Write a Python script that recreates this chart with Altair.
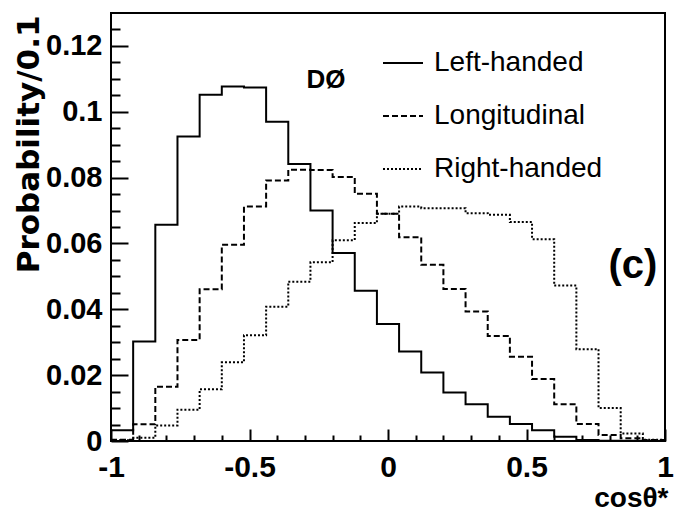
import altair as alt
import pandas as pd

# Left edges of the 25 bins in cos(theta*) (width 0.08); the last bin closes at 1.0
bin_left = [-1.00, -0.92, -0.84, -0.76, -0.68, -0.60, -0.52, -0.44, -0.36, -0.28,
            -0.20, -0.12, -0.04, 0.04, 0.12, 0.20, 0.28, 0.36, 0.44, 0.52,
            0.60, 0.68, 0.76, 0.84, 0.92]
x_end = 1.0

left_handed = [0.0033, 0.0302, 0.0657, 0.0925, 0.1052, 0.1077, 0.1074, 0.0970, 0.0841, 0.0700,
               0.0571, 0.0456, 0.0355, 0.0272, 0.0208, 0.0147, 0.0112, 0.0074, 0.0052, 0.0033,
               0.0013, 0.0003, 0.0001, 0.0001, 0.0000]
longitudinal = [0.0004, 0.0051, 0.0165, 0.0307, 0.0461, 0.0596, 0.0712, 0.0791, 0.0824, 0.0823,
                0.0802, 0.0751, 0.0690, 0.0619, 0.0535, 0.0462, 0.0393, 0.0319, 0.0256, 0.0188,
                0.0112, 0.0052, 0.0018, 0.0008, 0.0003]
right_handed = [0.0002, 0.0010, 0.0047, 0.0095, 0.0157, 0.0239, 0.0321, 0.0408, 0.0484, 0.0543,
                0.0610, 0.0662, 0.0690, 0.0712, 0.0707, 0.0707, 0.0692, 0.0687, 0.0665, 0.0613,
                0.0472, 0.0279, 0.0100, 0.0023, 0.0004]

series_names = ["Left-handed", "Longitudinal", "Right-handed"]

x_major = [-1, -0.5, 0, 0.5, 1]
x_minor = [-0.9, -0.8, -0.7, -0.6, -0.4, -0.3, -0.2, -0.1,
           0.1, 0.2, 0.3, 0.4, 0.6, 0.7, 0.8, 0.9]
y_major = [0, 0.02, 0.04, 0.06, 0.08, 0.1, 0.12]
y_minor = [0.005, 0.01, 0.015, 0.025, 0.03, 0.035, 0.045, 0.05, 0.055, 0.065, 0.07,
           0.075, 0.085, 0.09, 0.095, 0.105, 0.11, 0.115, 0.125]

rows = []
for name, vals in zip(series_names, [left_handed, longitudinal, right_handed]):
    for x, v in zip(bin_left, vals):
        rows.append({"x": x, "p": v, "series": name})
    rows.append({"x": x_end, "p": vals[-1], "series": name})
df = pd.DataFrame(rows)

SANS = "Liberation Sans"
xscale = alt.Scale(domain=[-1, 1], nice=False, zero=False)
yscale = alt.Scale(domain=[0, 0.13], nice=False)

num_label = "datum.value < 0 ? '-' + format(-datum.value, '~g') : format(datum.value, '~g')"

x_label_axis = alt.Axis(
    orient="bottom", values=x_major, ticks=False, tickSize=0, domain=False, grid=False,
    labelFont=SANS, labelFontSize=30, labelFontWeight="bold", labelColor="black",
    labelPadding=11, labelFlush=False, labelOverlap=False, labelExpr=num_label,
    title="cosθ*", titleFont=SANS, titleFontSize=28, titleFontWeight="bold",
    titleColor="black", titleAlign="right", titleBaseline="alphabetic",
    titleX=557, titleY=65,
)
y_label_axis = alt.Axis(
    orient="left", values=y_major, ticks=False, tickSize=0, domain=False, grid=False,
    labelFont=SANS, labelFontSize=29, labelFontWeight="bold", labelColor="black",
    labelPadding=9, labelFlush=False, labelOverlap=False, labelExpr=num_label,
    title="Probability/0.1", titleFont="DejaVu Sans", titleFontSize=31,
    titleFontWeight="bold", titleColor="black", titleAngle=270, titleAlign="right",
    titleBaseline="middle", titleX=-82, titleY=2,
)


def tick_axis(orient, values, size):
    return alt.Axis(orient=orient, values=values, offset=-size, tickSize=size,
                    tickWidth=2, tickColor="black", labels=False, domain=False,
                    grid=False, title="")


lines = alt.Chart(df).mark_line(interpolate="step-after", color="black", strokeWidth=2).encode(
    x=alt.X("x:Q", scale=xscale, axis=x_label_axis),
    y=alt.Y("p:Q", scale=yscale, axis=y_label_axis),
    strokeDash=alt.StrokeDash(
        "series:N",
        scale=alt.Scale(domain=series_names, range=[[1, 0], [6, 3], [2, 2]]),
        legend=alt.Legend(
            title=None, orient="none", legendX=271, legendY=29, padding=0,
            symbolType="stroke", symbolSize=1600, symbolStrokeWidth=2,
            symbolStrokeColor="black", labelFont=SANS, labelFontSize=28,
            labelColor="black", labelOffset=10, rowPadding=18, labelLimit=400,
        ),
    ),
)

major_ticks = alt.Chart(df).mark_point(opacity=0).encode(
    x=alt.X("x:Q", scale=xscale, axis=tick_axis("bottom", x_major, 12)),
    y=alt.Y("p:Q", scale=yscale, axis=tick_axis("left", y_major, 17)),
)
minor_ticks = alt.Chart(df).mark_point(opacity=0).encode(
    x=alt.X("x:Q", scale=xscale, axis=tick_axis("bottom", x_minor, 6)),
    y=alt.Y("p:Q", scale=yscale, axis=tick_axis("left", y_minor, 9)),
)

experiment = alt.Chart(pd.DataFrame({"x": [-0.224], "p": [0.1095], "t": ["DØ"]})).mark_text(
    font=SANS, fontSize=26, fontWeight="bold", color="black", baseline="middle"
).encode(
    x=alt.X("x:Q", scale=xscale, axis=None),
    y=alt.Y("p:Q", scale=yscale, axis=None),
    text="t:N",
)
panel = alt.Chart(pd.DataFrame({"x": [0.884], "p": [0.0531], "t": ["(c)"]})).mark_text(
    font=SANS, fontSize=40, fontWeight="bold", color="black", baseline="middle"
).encode(
    x=alt.X("x:Q", scale=xscale, axis=None),
    y=alt.Y("p:Q", scale=yscale, axis=None),
    text="t:N",
)

chart = (
    alt.layer(lines, major_ticks, minor_ticks, experiment, panel)
    .resolve_axis(x="independent", y="independent")
    .properties(
        width=554, height=428,
        padding={"left": 111, "top": 13, "right": 14, "bottom": 74},
        autosize=alt.AutoSizeParams(type="none"),
        background="white",
    )
    .configure_view(stroke="black", strokeWidth=2)
)

chart.save("out.html", embed_options={"renderer": "svg", "actions": False})
